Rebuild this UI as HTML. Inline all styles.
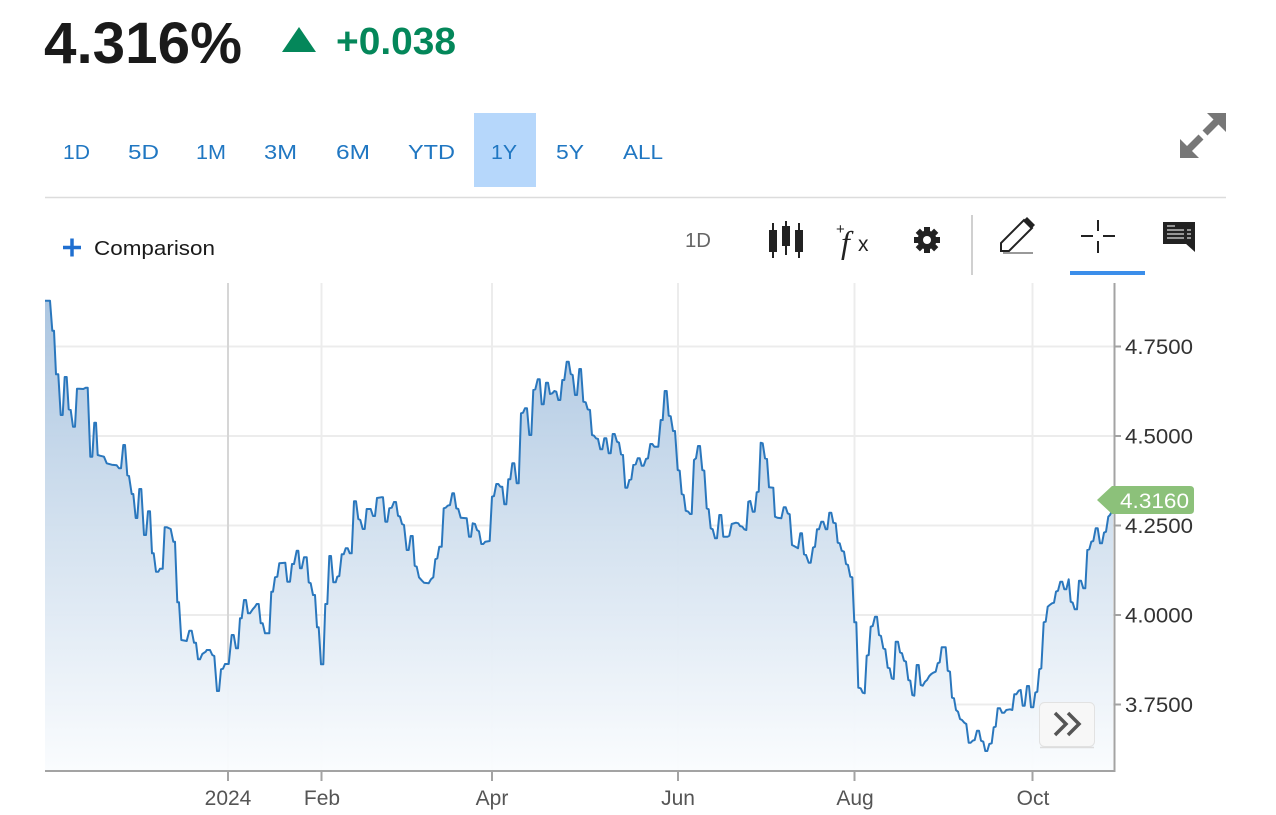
<!DOCTYPE html>
<html><head><meta charset="utf-8"><style>
html,body{margin:0;padding:0;background:#fff;}
svg{display:block;font-family:"Liberation Sans",Arial,sans-serif;}
</style></head><body>
<svg width="1276" height="815" viewBox="0 0 1276 815" xmlns="http://www.w3.org/2000/svg">
<defs>
<linearGradient id="fg" x1="0" y1="300" x2="0" y2="771" gradientUnits="userSpaceOnUse">
<stop offset="0" stop-color="#a9c4e0"/>
<stop offset="0.5" stop-color="#d3e1ef"/>
<stop offset="1" stop-color="#fafcfe"/>
</linearGradient>
</defs>
<rect width="1276" height="815" fill="#fff"/>
<!-- header -->
<text x="44" y="63" font-size="58" font-weight="bold" fill="#1a1a1a" textLength="198" lengthAdjust="spacingAndGlyphs">4.316%</text>
<polygon points="282,52 316,52 299,27" fill="#04875a"/>
<text x="336" y="54" font-size="38" font-weight="bold" fill="#04875a" textLength="120" lengthAdjust="spacingAndGlyphs">+0.038</text>
<!-- range buttons -->
<rect x="474" y="113" width="62" height="74" fill="#b6d7fb"/>
<g font-size="20" fill="#2077c2">
<text x="63" y="159" textLength="27" lengthAdjust="spacingAndGlyphs">1D</text>
<text x="128" y="159" textLength="31" lengthAdjust="spacingAndGlyphs">5D</text>
<text x="196" y="159" textLength="30" lengthAdjust="spacingAndGlyphs">1M</text>
<text x="264" y="159" textLength="33" lengthAdjust="spacingAndGlyphs">3M</text>
<text x="336" y="159" textLength="34" lengthAdjust="spacingAndGlyphs">6M</text>
<text x="408" y="159" textLength="47" lengthAdjust="spacingAndGlyphs">YTD</text>
<text x="491" y="159" textLength="26" lengthAdjust="spacingAndGlyphs">1Y</text>
<text x="556" y="159" textLength="28" lengthAdjust="spacingAndGlyphs">5Y</text>
<text x="623" y="159" textLength="40" lengthAdjust="spacingAndGlyphs">ALL</text>
</g>
<!-- expand icon -->
<g fill="#777" stroke="none">
<polygon points="1226,113 1226,132 1207,113"/>
<polygon points="1180,158 1180,139 1199,158"/>
</g>
<line x1="1187" y1="151" x2="1201" y2="137" stroke="#777" stroke-width="7"/>
<line x1="1205" y1="133" x2="1219" y2="119" stroke="#777" stroke-width="7"/>
<line x1="45" y1="197.5" x2="1226" y2="197.5" stroke="#dcdcdc" stroke-width="1.5"/>
<!-- toolbar -->
<line x1="63" y1="247.5" x2="81" y2="247.5" stroke="#1f6fd0" stroke-width="3.5"/>
<line x1="72" y1="238.5" x2="72" y2="256.5" stroke="#1f6fd0" stroke-width="3.5"/>
<text x="94" y="255" font-size="20.5" fill="#1a1a1a" textLength="121" lengthAdjust="spacingAndGlyphs">Comparison</text>
<text x="685" y="247" font-size="20" fill="#666" textLength="26" lengthAdjust="spacingAndGlyphs">1D</text>
<!-- candles -->
<g fill="#222" stroke="#222">
<line x1="773" y1="223" x2="773" y2="258" stroke-width="2"/>
<rect x="769" y="230" width="8" height="22" stroke="none"/>
<line x1="786" y1="221" x2="786" y2="255" stroke-width="2"/>
<rect x="782" y="226" width="8" height="20" stroke="none"/>
<line x1="799" y1="223" x2="799" y2="258" stroke-width="2"/>
<rect x="795" y="230" width="8" height="22" stroke="none"/>
</g>
<!-- fx -->
<text x="836" y="234" font-size="15" fill="#222">+</text>
<text x="841" y="253" font-size="32" font-style="italic" font-family="Liberation Serif,serif" fill="#222">f</text>
<text x="858" y="251" font-size="21" fill="#222">x</text>
<!-- gear -->
<g transform="translate(927,240)" fill="#222">
<circle r="9.5"/>
<rect x="-3" y="-13" width="6" height="26"/>
<rect x="-3" y="-13" width="6" height="26" transform="rotate(45)"/>
<rect x="-3" y="-13" width="6" height="26" transform="rotate(90)"/>
<rect x="-3" y="-13" width="6" height="26" transform="rotate(135)"/>
<circle r="4" fill="#fff"/>
</g>
<line x1="972" y1="215" x2="972" y2="275" stroke="#d0d0d0" stroke-width="2"/>
<!-- pencil -->
<polygon points="1001,251 1001,243 1024,220 1032,228 1009,251" fill="none" stroke="#222" stroke-width="2" stroke-linejoin="miter"/>
<polygon points="1023,221 1027,217 1035,225 1031,229" fill="#222"/>
<line x1="1003" y1="253" x2="1033" y2="253" stroke="#999" stroke-width="2"/>
<!-- crosshair -->
<g stroke="#222" stroke-width="2">
<line x1="1081" y1="236" x2="1093" y2="236"/>
<line x1="1103" y1="236" x2="1115" y2="236"/>
<line x1="1098" y1="220" x2="1098" y2="231"/>
<line x1="1098" y1="241" x2="1098" y2="253"/>
</g>
<rect x="1070" y="271" width="75" height="4" fill="#3b8eea"/>
<!-- comment -->
<rect x="1163" y="222" width="32" height="22" fill="#222"/>
<polygon points="1185,243 1195,243 1195,252" fill="#222"/>
<g stroke="#bbb" stroke-width="1.5">
<line x1="1167" y1="226" x2="1175" y2="226"/>
<line x1="1167" y1="230" x2="1184" y2="230"/><line x1="1187" y1="230" x2="1191" y2="230"/>
<line x1="1167" y1="234" x2="1184" y2="234"/><line x1="1187" y1="234" x2="1191" y2="234"/>
<line x1="1167" y1="238" x2="1184" y2="238"/><line x1="1187" y1="238" x2="1191" y2="238"/>
</g>
<!-- gridlines -->
<g stroke="#ececec" stroke-width="2">
<line x1="45" y1="346.5" x2="1114" y2="346.5"/>
<line x1="45" y1="436" x2="1114" y2="436"/>
<line x1="45" y1="525.5" x2="1114" y2="525.5"/>
<line x1="45" y1="615" x2="1114" y2="615"/>
<line x1="45" y1="704.5" x2="1114" y2="704.5"/>
<line x1="321.5" y1="283" x2="321.5" y2="771"/>
<line x1="492" y1="283" x2="492" y2="771"/>
<line x1="678" y1="283" x2="678" y2="771"/>
<line x1="854.5" y1="283" x2="854.5" y2="771"/>
<line x1="1032.5" y1="283" x2="1032.5" y2="771"/>
</g>
<line x1="228" y1="283" x2="228" y2="771" stroke="#d6d6d6" stroke-width="2"/>
<!-- series -->
<polygon fill="url(#fg)" fill-opacity="0.97" points="45,771 45,300.7 50,300.7 52.3,330.7 54,330.7 56,374.3 58.3,374.3 60.7,415 62.7,415 64.7,377 66.7,377 68.7,409.3 70.7,410 73,426.7 75,426.7 77,388.7 79.3,388.7 83.3,389 85.7,387.7 87.7,387.7 90.3,456.7 92.3,456.7 94.3,422.7 96,422.7 97.7,455 100,455.7 104,456.7 106.7,463.3 111.7,464.7 116.7,465.3 119,468.3 121,468.3 123.3,445 125,445 127.3,475.3 129,476 131.7,494 133.3,494 135.7,518 137.3,518 139.3,489 141.3,489 144,535 146,535 148,511.3 150,511.3 152,553.3 153.7,553.3 156,571.7 158.3,571.7 160,568.7 162.7,568.7 164.7,527.3 167,527.3 170.7,529 173.3,541.7 175,541.7 177.3,602.3 179,602.3 181.3,640 186.7,641 189.3,630.7 191.7,630.7 194,642.7 196,642.7 198,659.3 200,659.3 202.3,654 205.7,651.7 206.7,650 210,650 212.3,655 214.3,656 217,691 219,691 221,669.3 223,668.7 225,664 228.7,664 231.7,635 233.7,635 236,648.3 238,648.3 240,618.3 241.7,618.3 244,600 246,600 248,613.3 250,613.3 252.7,609.3 255,606.7 256.7,604 258.7,604 260.7,623.3 262.7,623.3 265,633.3 269.3,633.3 271.3,591.7 273,591.7 275,577.3 277.3,576.7 279.3,563.3 285.3,562.7 287.3,581.7 290,581.7 292,564 294,564 296.7,550.7 298.3,550.7 300,568.3 301.7,568.3 304,557.3 306.7,557.3 308.7,582.3 310.7,583.3 313,595 315,595 317,627.3 318.7,627.3 321,664.3 323.3,664.3 325.3,604 327.3,604 329.3,556 331,556 333.3,582.3 335.7,582.3 337.3,576.7 339.3,576 341.7,554.3 343.7,554.3 345.7,548.3 347.7,548.3 349.7,553.3 351.7,553.3 354,501.3 356,501.3 358.3,519 360.3,520 362.7,529 364.7,529 366.7,509 370.7,509 373,516 375,516 377,498 381,497.3 383,497.3 385.3,521.7 387.3,521.7 389.3,508.3 391.7,507.7 394,502 396,502 398,515.7 400,516.7 402,524 404,525 406.7,550 408.7,550 410.7,536 412.7,536 414.7,565.7 416.7,566.7 419,577.3 422,580.7 424,582.7 428.7,583.3 431,579.3 433.3,577.3 435.3,559.3 437.3,558.3 439.3,546.7 441.7,546.7 443.7,508.3 445.7,507.7 447.7,505.7 450,505 452.3,493.3 454,493.3 456.3,508.3 458.3,509 460.7,517.7 466.7,518.3 469,536.7 471,536.7 472.7,523.3 475,524 477,530 479,531.3 481.3,544 483.3,544 485.3,541.7 489.7,541 492,496.7 494,496 496.3,484 498.3,484 500.3,486.7 502.3,486.7 504.3,504.3 506.3,504.3 508.3,479.3 510.3,479.3 512.3,463.3 514.3,463.3 516.7,483.3 518.7,483.3 521,413.3 523,412.7 525,408.3 527,408.3 529.3,435 531.3,435 533.3,390 535.3,389.3 537.7,379.3 539.7,379.3 541.7,404.3 543.7,404.3 546,382.7 548,382.7 550,394 552.3,393.3 554.3,391 556.3,391.7 558.3,400 560.3,400 562.3,380 564.3,380 566.7,361.7 568.7,361.7 570.7,374 572.7,375 575,395 577,395 579.3,369 581,369 583.3,401.7 585.7,402.3 587.7,409.3 590,410 592,435 594,435.7 596,438.3 598,439 600.3,449.3 602.3,449.3 604.3,438.3 606.3,438.3 608.7,453.3 610.7,453.3 612.7,434 614.7,434 617,441.7 619,442.7 621,454.3 623,455 625.3,487.7 627.3,487.7 629.3,480 631.3,479.3 633.3,465 635.7,464.3 637.7,458.3 639.7,458.3 641.7,465.7 643.7,465.7 646,459 648,458.3 650.3,444 652.3,444 654.3,446.7 658.3,446.7 660.7,420 662.7,420 664.7,391 666.7,391 668.7,415.7 670.7,416.3 673,431 675,431 677.7,470 679.7,470.7 681.7,494 683.7,495 685.7,510.7 688.3,511.7 690,514 691.7,514 694,460 696,458.3 698,446 700,446 702.3,470 704.3,470.7 706.7,508.3 708.7,509.3 710.7,528.3 712.7,529.3 715,538.3 717,538.3 719.3,515 721.3,515 723.3,536.7 727.7,536.7 729.3,535.7 731.7,524 736,522.7 738.3,523.3 740,526 742.3,526.7 744.3,529.3 746.3,530 748.3,501.7 750.3,501 752.7,511.7 754.7,511.7 756.7,492.3 758.7,491.7 760.7,442.7 762.7,443.3 765,458.3 767,459 769,487.3 773.3,487.7 775,516.7 777.3,517.7 781.3,518.3 783.7,507.3 785.7,507.3 787.7,513.3 789.7,514.3 792,545 794,546 798,548.3 800.3,533.3 802,533.3 804,554.3 806,555 808.7,562.7 810.7,562.7 813,547.7 815,546.7 817,529.3 819,529.3 821.3,521.7 823.3,521.7 825.7,529.3 827.3,529.3 829.3,512.7 831.3,512.7 833.3,522.7 835.7,523.3 837.7,542.7 839.7,543.3 841.7,550.7 844,551.7 846,564 848,565 850.3,576.7 852.3,577.3 854.3,622.3 856.3,622.3 858.3,687.7 860.7,688.3 862.7,692.7 864.7,693.3 866.7,655.7 868.7,655 870.7,626.7 872.7,626 875,616.7 877,616.7 879,635 881,636 883.3,648.3 885.3,649.3 887.7,667.7 889.7,668.3 891.7,678.3 893.7,679 895.7,641.7 898,641.7 900,652.3 902,653.3 904,660.7 906,661.7 908.3,680 910.3,680.7 912.3,695 914.3,695.7 916.7,665 918.7,665 920.7,685 922.7,685.7 925,681.7 927,680 929.3,676 931.3,674 933.3,672.7 935.7,671.7 937.7,663.3 939.7,662.3 941.7,647.3 945.7,647.3 947.7,670.7 950,671.7 952,697.7 954,698.3 956,710 958,711.7 960,719 962,720 964.3,722.7 966.3,724 968.7,742.7 970.7,742.7 972.7,740.7 974.7,740 977,730.7 979,730.7 981,740.7 983.3,741.7 985.3,751 987.3,751 989.3,744 991.7,743.3 993.7,727.3 995.7,726.7 997.7,708.3 1000,708.3 1002,712.7 1004.3,712.7 1006.3,710 1010,709.3 1012.3,710 1014.3,694.3 1016.3,694.3 1018.7,690.7 1020.7,690 1022.7,705.7 1024.7,705.7 1027,686 1029,686 1031,707.3 1033.3,707.3 1035.3,692.7 1037.3,691.7 1039.3,669.3 1041.3,668.3 1043.7,622.3 1045.7,621.7 1047.7,606.7 1049.7,605 1052,603.3 1054,602.7 1056,591.7 1058,590.7 1060.3,581.7 1062.3,581.7 1064.3,589.3 1066.3,589.3 1068.7,579.3 1070.7,601.7 1072.7,602.7 1074.7,609.3 1077,609.3 1079,580.7 1081,580.7 1083.3,588.3 1085.3,588.3 1087.3,550 1089.3,549.3 1091.3,541.7 1093.3,541 1095.7,528.3 1097.7,528.3 1100,543.3 1102,543.3 1104,532.7 1106,531.7 1108.3,516.7 1110,515 1113,509 1113,771"/>
<polyline fill="none" stroke="#2a77bd" stroke-width="2" stroke-linejoin="round" points="45,300.7 50,300.7 52.3,330.7 54,330.7 56,374.3 58.3,374.3 60.7,415 62.7,415 64.7,377 66.7,377 68.7,409.3 70.7,410 73,426.7 75,426.7 77,388.7 79.3,388.7 83.3,389 85.7,387.7 87.7,387.7 90.3,456.7 92.3,456.7 94.3,422.7 96,422.7 97.7,455 100,455.7 104,456.7 106.7,463.3 111.7,464.7 116.7,465.3 119,468.3 121,468.3 123.3,445 125,445 127.3,475.3 129,476 131.7,494 133.3,494 135.7,518 137.3,518 139.3,489 141.3,489 144,535 146,535 148,511.3 150,511.3 152,553.3 153.7,553.3 156,571.7 158.3,571.7 160,568.7 162.7,568.7 164.7,527.3 167,527.3 170.7,529 173.3,541.7 175,541.7 177.3,602.3 179,602.3 181.3,640 186.7,641 189.3,630.7 191.7,630.7 194,642.7 196,642.7 198,659.3 200,659.3 202.3,654 205.7,651.7 206.7,650 210,650 212.3,655 214.3,656 217,691 219,691 221,669.3 223,668.7 225,664 228.7,664 231.7,635 233.7,635 236,648.3 238,648.3 240,618.3 241.7,618.3 244,600 246,600 248,613.3 250,613.3 252.7,609.3 255,606.7 256.7,604 258.7,604 260.7,623.3 262.7,623.3 265,633.3 269.3,633.3 271.3,591.7 273,591.7 275,577.3 277.3,576.7 279.3,563.3 285.3,562.7 287.3,581.7 290,581.7 292,564 294,564 296.7,550.7 298.3,550.7 300,568.3 301.7,568.3 304,557.3 306.7,557.3 308.7,582.3 310.7,583.3 313,595 315,595 317,627.3 318.7,627.3 321,664.3 323.3,664.3 325.3,604 327.3,604 329.3,556 331,556 333.3,582.3 335.7,582.3 337.3,576.7 339.3,576 341.7,554.3 343.7,554.3 345.7,548.3 347.7,548.3 349.7,553.3 351.7,553.3 354,501.3 356,501.3 358.3,519 360.3,520 362.7,529 364.7,529 366.7,509 370.7,509 373,516 375,516 377,498 381,497.3 383,497.3 385.3,521.7 387.3,521.7 389.3,508.3 391.7,507.7 394,502 396,502 398,515.7 400,516.7 402,524 404,525 406.7,550 408.7,550 410.7,536 412.7,536 414.7,565.7 416.7,566.7 419,577.3 422,580.7 424,582.7 428.7,583.3 431,579.3 433.3,577.3 435.3,559.3 437.3,558.3 439.3,546.7 441.7,546.7 443.7,508.3 445.7,507.7 447.7,505.7 450,505 452.3,493.3 454,493.3 456.3,508.3 458.3,509 460.7,517.7 466.7,518.3 469,536.7 471,536.7 472.7,523.3 475,524 477,530 479,531.3 481.3,544 483.3,544 485.3,541.7 489.7,541 492,496.7 494,496 496.3,484 498.3,484 500.3,486.7 502.3,486.7 504.3,504.3 506.3,504.3 508.3,479.3 510.3,479.3 512.3,463.3 514.3,463.3 516.7,483.3 518.7,483.3 521,413.3 523,412.7 525,408.3 527,408.3 529.3,435 531.3,435 533.3,390 535.3,389.3 537.7,379.3 539.7,379.3 541.7,404.3 543.7,404.3 546,382.7 548,382.7 550,394 552.3,393.3 554.3,391 556.3,391.7 558.3,400 560.3,400 562.3,380 564.3,380 566.7,361.7 568.7,361.7 570.7,374 572.7,375 575,395 577,395 579.3,369 581,369 583.3,401.7 585.7,402.3 587.7,409.3 590,410 592,435 594,435.7 596,438.3 598,439 600.3,449.3 602.3,449.3 604.3,438.3 606.3,438.3 608.7,453.3 610.7,453.3 612.7,434 614.7,434 617,441.7 619,442.7 621,454.3 623,455 625.3,487.7 627.3,487.7 629.3,480 631.3,479.3 633.3,465 635.7,464.3 637.7,458.3 639.7,458.3 641.7,465.7 643.7,465.7 646,459 648,458.3 650.3,444 652.3,444 654.3,446.7 658.3,446.7 660.7,420 662.7,420 664.7,391 666.7,391 668.7,415.7 670.7,416.3 673,431 675,431 677.7,470 679.7,470.7 681.7,494 683.7,495 685.7,510.7 688.3,511.7 690,514 691.7,514 694,460 696,458.3 698,446 700,446 702.3,470 704.3,470.7 706.7,508.3 708.7,509.3 710.7,528.3 712.7,529.3 715,538.3 717,538.3 719.3,515 721.3,515 723.3,536.7 727.7,536.7 729.3,535.7 731.7,524 736,522.7 738.3,523.3 740,526 742.3,526.7 744.3,529.3 746.3,530 748.3,501.7 750.3,501 752.7,511.7 754.7,511.7 756.7,492.3 758.7,491.7 760.7,442.7 762.7,443.3 765,458.3 767,459 769,487.3 773.3,487.7 775,516.7 777.3,517.7 781.3,518.3 783.7,507.3 785.7,507.3 787.7,513.3 789.7,514.3 792,545 794,546 798,548.3 800.3,533.3 802,533.3 804,554.3 806,555 808.7,562.7 810.7,562.7 813,547.7 815,546.7 817,529.3 819,529.3 821.3,521.7 823.3,521.7 825.7,529.3 827.3,529.3 829.3,512.7 831.3,512.7 833.3,522.7 835.7,523.3 837.7,542.7 839.7,543.3 841.7,550.7 844,551.7 846,564 848,565 850.3,576.7 852.3,577.3 854.3,622.3 856.3,622.3 858.3,687.7 860.7,688.3 862.7,692.7 864.7,693.3 866.7,655.7 868.7,655 870.7,626.7 872.7,626 875,616.7 877,616.7 879,635 881,636 883.3,648.3 885.3,649.3 887.7,667.7 889.7,668.3 891.7,678.3 893.7,679 895.7,641.7 898,641.7 900,652.3 902,653.3 904,660.7 906,661.7 908.3,680 910.3,680.7 912.3,695 914.3,695.7 916.7,665 918.7,665 920.7,685 922.7,685.7 925,681.7 927,680 929.3,676 931.3,674 933.3,672.7 935.7,671.7 937.7,663.3 939.7,662.3 941.7,647.3 945.7,647.3 947.7,670.7 950,671.7 952,697.7 954,698.3 956,710 958,711.7 960,719 962,720 964.3,722.7 966.3,724 968.7,742.7 970.7,742.7 972.7,740.7 974.7,740 977,730.7 979,730.7 981,740.7 983.3,741.7 985.3,751 987.3,751 989.3,744 991.7,743.3 993.7,727.3 995.7,726.7 997.7,708.3 1000,708.3 1002,712.7 1004.3,712.7 1006.3,710 1010,709.3 1012.3,710 1014.3,694.3 1016.3,694.3 1018.7,690.7 1020.7,690 1022.7,705.7 1024.7,705.7 1027,686 1029,686 1031,707.3 1033.3,707.3 1035.3,692.7 1037.3,691.7 1039.3,669.3 1041.3,668.3 1043.7,622.3 1045.7,621.7 1047.7,606.7 1049.7,605 1052,603.3 1054,602.7 1056,591.7 1058,590.7 1060.3,581.7 1062.3,581.7 1064.3,589.3 1066.3,589.3 1068.7,579.3 1070.7,601.7 1072.7,602.7 1074.7,609.3 1077,609.3 1079,580.7 1081,580.7 1083.3,588.3 1085.3,588.3 1087.3,550 1089.3,549.3 1091.3,541.7 1093.3,541 1095.7,528.3 1097.7,528.3 1100,543.3 1102,543.3 1104,532.7 1106,531.7 1108.3,516.7 1110,515 1113,509"/>
<!-- axes -->
<line x1="45" y1="771" x2="1115.5" y2="771" stroke="#a3a3a3" stroke-width="2"/>
<line x1="1114.5" y1="283" x2="1114.5" y2="772" stroke="#a3a3a3" stroke-width="2"/>
<g stroke="#a3a3a3" stroke-width="2">
<line x1="1115" y1="346.5" x2="1121" y2="346.5"/>
<line x1="1115" y1="436" x2="1121" y2="436"/>
<line x1="1115" y1="525.5" x2="1121" y2="525.5"/>
<line x1="1115" y1="615" x2="1121" y2="615"/>
<line x1="1115" y1="704.5" x2="1121" y2="704.5"/>
<line x1="228" y1="771" x2="228" y2="781"/>
<line x1="321.5" y1="771" x2="321.5" y2="781"/>
<line x1="492" y1="771" x2="492" y2="781"/>
<line x1="678" y1="771" x2="678" y2="781"/>
<line x1="854.5" y1="771" x2="854.5" y2="781"/>
<line x1="1032.5" y1="771" x2="1032.5" y2="781"/>
</g>
<g font-size="21" fill="#333">
<text x="1125" y="354" textLength="68" lengthAdjust="spacingAndGlyphs">4.7500</text>
<text x="1125" y="443.5" textLength="68" lengthAdjust="spacingAndGlyphs">4.5000</text>
<text x="1125" y="533" textLength="68" lengthAdjust="spacingAndGlyphs">4.2500</text>
<text x="1125" y="622.5" textLength="68" lengthAdjust="spacingAndGlyphs">4.0000</text>
<text x="1125" y="712" textLength="68" lengthAdjust="spacingAndGlyphs">3.7500</text>
</g>
<g font-size="21" fill="#555" text-anchor="middle">
<text x="228" y="805">2024</text>
<text x="322" y="805">Feb</text>
<text x="492" y="805">Apr</text>
<text x="678" y="805">Jun</text>
<text x="855" y="805">Aug</text>
<text x="1033" y="805">Oct</text>
</g>
<!-- price label -->
<path d="M1097,500 L1112,486 H1190 Q1194,486 1194,490 V510 Q1194,514 1190,514 H1112 Z" fill="#8cc17a"/>
<text x="1120" y="508" font-size="21" fill="#fff" textLength="69" lengthAdjust="spacingAndGlyphs">4.3160</text>
<!-- scroll button -->
<rect x="1039.5" y="702.5" width="55" height="44" rx="5" fill="#f7f7f7" stroke="#e2e2e2" stroke-width="1"/>
<line x1="1040" y1="747.5" x2="1094" y2="747.5" stroke="#ddd" stroke-width="1.5"/>
<g fill="none" stroke="#555" stroke-width="3.5">
<polyline points="1055,713 1066,724 1055,735"/>
<polyline points="1068,713 1079,724 1068,735"/>
</g>
</svg>
</body></html>
